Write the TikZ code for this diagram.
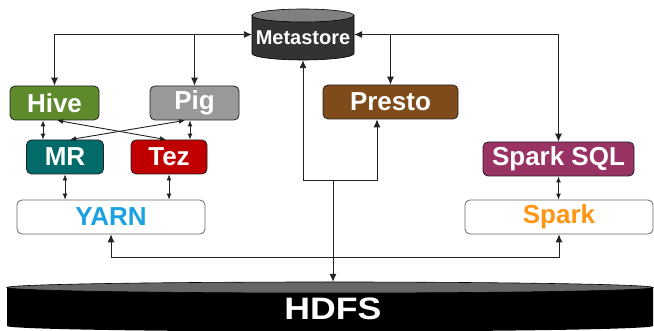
\documentclass[tikz,border=0pt]{standalone}
\usepackage{fontspec}
\setmainfont{Liberation Sans}
\usetikzlibrary{arrows.meta}
\definecolor{hivec}{HTML}{5E8A2C}
\definecolor{pigc}{HTML}{999999}
\definecolor{prestoc}{HTML}{7F4B1B}
\definecolor{mrc}{HTML}{006B68}
\definecolor{tezc}{HTML}{C00000}
\definecolor{sqlc}{HTML}{993364}
\definecolor{yarnc}{HTML}{1BA1E2}
\definecolor{sparkc}{HTML}{FF9412}
\definecolor{linec}{HTML}{222222}
\tikzset{
  box/.style={draw=linec, line width=0.8pt, rounded corners=5pt, minimum height=34pt, inner sep=0pt,
    text=white, font=\fontsize{26}{26}\selectfont\bfseries},
  wbox/.style={box, fill=white, draw=gray!80!black},
  con/.style={draw=linec, line width=0.9pt},
  arr/.style={con, -{Latex[length=8pt,width=7pt]}},
  barr/.style={con, {Latex[length=8pt,width=7pt]}-{Latex[length=8pt,width=7pt]}},
  sarr/.style={con, {Latex[length=6pt,width=5pt]}-{Latex[length=6pt,width=5pt]}},
}
\begin{document}
\begin{tikzpicture}[x=1pt,y=-1pt]
\useasboundingbox (0,0) rectangle (654,331);
% Metastore cylinder
\filldraw[fill=black!80, draw=black, line width=0.6pt] (252,15.5) -- (252,53.5) arc[start angle=180,end angle=360,x radius=51pt,y radius=6.5pt] -- (354,15.5) -- cycle;
\filldraw[fill=black!50, draw=black, line width=0.6pt] (303,15.5) ellipse[x radius=51pt,y radius=6.5pt];
\node[minimum width=102pt, minimum height=51pt, inner sep=0pt] (meta) at (303,34.5) {};
\node[text=white, font=\fontsize{20}{20}\selectfont\bfseries] at (303,38) {Metastore};
% HDFS cylinder
\fill[black] (7,287.5) -- (7,326) arc[start angle=180,end angle=360,x radius=323pt,y radius=5.5pt] -- (653,287.5) -- cycle;
\filldraw[fill=black!60, draw=black, line width=0.6pt] (330,287.5) ellipse[x radius=323pt,y radius=5.5pt];
\node[minimum width=646pt, minimum height=49pt, inner sep=0pt] (hdfs) at (330,306.5) {};
\node[text=white, font=\fontsize{31}{31}\selectfont\bfseries, xscale=1.15] at (333,309) {HDFS};
% boxes
\node[box, fill=hivec, minimum width=89pt] (hive) at (54.5,103) {Hive};
\node[box, fill=pigc, minimum width=89pt] (pig) at (194.5,103) {Pig};
\node[box, fill=prestoc, minimum width=135pt] (presto) at (390.5,102) {Presto};
\node[box, fill=mrc, minimum width=77pt] (mr) at (65,157) {MR};
\node[box, fill=tezc, minimum width=76pt] (tez) at (169,157) {Tez};
\node[wbox, text=yarnc, minimum width=188pt] (yarn) at (111,217) {YARN};
\node[box, fill=sqlc, minimum width=151pt] (sql) at (558.5,159) {Spark SQL};
\node[wbox, text=sparkc, minimum width=188pt] (spark) at (559,217) {Spark};
% helper coordinates
\coordinate (x43) at (43,0);
\coordinate (x190) at (190,0);
\coordinate (x377) at (377,0);
\coordinate (j) at (333,180);
\coordinate (yb) at (0,257);
% top connectors
\draw[barr] (hive.north) |- (meta.west);
\draw[arr] (pig.north |- meta.west) -- (pig.north);
\draw[barr] (meta.east) -| (sql.north);
\draw[arr] (presto.north |- meta.east) -- (presto.north);
% hive/pig to mr/tez
\draw[sarr] (hive.south -| x43) -- (mr.north -| x43);
\draw[sarr] (pig.south -| x190) -- (tez.north -| x190);
\draw[sarr] ([xshift=2.5pt]hive.south) -- ([xshift=-3pt]tez.north);
\draw[sarr] ([xshift=-9.5pt]pig.south) -- ([xshift=5pt]mr.north);
% to yarn / spark
\draw[sarr] (mr.south) -- (mr.south |- yarn.north);
\draw[sarr] (tez.south) -- (tez.south |- yarn.north);
\draw[sarr] (sql.south) -- (sql.south |- spark.north);
% HDFS links
\draw[barr] (meta.south) -- (meta.south |- j) -- (j -| x377) -- (presto.south -| x377);
\draw[arr] (j) -- (j |- hdfs.north);
\draw[barr] (yarn.south) -- (yarn.south |- yb) -| (spark.south);
\end{tikzpicture}
\end{document}
